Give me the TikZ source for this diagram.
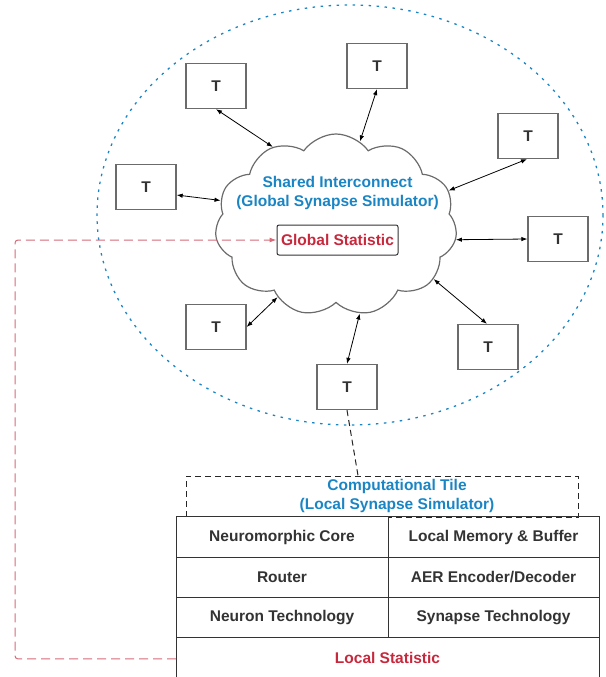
\documentclass[tikz,border=0pt]{standalone}
\usepackage{fontspec}
\setmainfont{Liberation Sans}
\usetikzlibrary{arrows.meta,calc,positioning,shapes.symbols}
\definecolor{linkblue}{HTML}{1A85C4}
\definecolor{statred}{HTML}{C8283C}
\definecolor{statpink}{HTML}{D66A78}
\definecolor{boxgray}{HTML}{6B6B6B}
\definecolor{textgray}{HTML}{333333}
\newcommand{\lbl}{\bfseries\fontsize{15.5}{19}\selectfont}
\tikzset{
	tile/.style={draw=boxgray,line width=1.3pt,minimum width=60,minimum height=45,
		font=\lbl,text=textgray},
	link/.style={<->,>={Latex[length=6pt,width=4.5pt]},line width=0.8pt},
	cell/.style={draw=textgray,line width=1pt,minimum width=212,minimum height=40.3,
		outer sep=0pt,inner sep=0pt,font=\lbl,text=textgray},
	ring/.style={draw=linkblue,line width=1.3pt,dash pattern=on 2.5pt off 5.5pt},
	statline/.style={draw=statpink,line width=1pt,dash pattern=on 9pt off 5pt,
		rounded corners=3pt,-{Latex[length=7pt,width=5pt]}},
	tileline/.style={draw=black!85,line width=1pt,dash pattern=on 6pt off 4pt}
}
\begin{document}
\begin{tikzpicture}[x=1pt,y=-1pt,node distance=0 and 0]
	\useasboundingbox (0,0) rectangle (605,677);
	% shared interconnect
	\draw[ring] (350,215) ellipse [x radius=253, y radius=210];
	\node[cloud,cloud puffs=11,cloud puff arc=110,cloud ignores aspect,draw=boxgray,
		line width=1.2pt,minimum width=242,minimum height=182] (cloud) at (336,225) {};
	\node[font=\lbl,text=linkblue,align=center] (shared) at (337.5,193)
		{Shared Interconnect\\(Global Synapse Simulator)};
	\node[draw=textgray,line width=1pt,rounded corners=2pt,font=\lbl,text=statred,
		minimum width=121,minimum height=30,inner sep=0pt] (global) at (337.5,240) {Global Statistic};
	% tiles
	\node[tile] (t1) at (216,86) {T};
	\node[tile] (t2) at (377,66) {T};
	\node[tile] (t3) at (528,136) {T};
	\node[tile] (t4) at (558,239) {T};
	\node[tile] (t5) at (488,347) {T};
	\node[tile] (t6) at (347,387) {T};
	\node[tile] (t7) at (216,327) {T};
	\node[tile] (t8) at (146,187) {T};
	\draw[link] (t1.south) -- (cloud.129);
	\draw[link] (t2.south) -- (cloud.74);
	\draw[link] ([xshift=-1pt]t3.south) -- (cloud.17);
	\draw[link] (t4.west) -- (cloud.-7);
	\draw[link] ([xshift=-1pt]t5.north) -- (cloud.-29);
	\draw[link] (t6.north) -- (cloud.-75);
	\draw[link] (t7.east) -- (cloud.-129);
	\draw[link] ([yshift=-8pt]t8.east) -- (cloud.168);
	% computational tile
	\node[tileline,minimum width=392,minimum height=41] (tilehead) at (382,496.5) {};
	\node[font=\lbl,text=linkblue,align=center] (tiletitle) at (397,496)
		{Computational Tile\\(Local Synapse Simulator)};
	\draw[tileline] (t6.south) -- ([xshift=-24pt]tilehead.north);
	\node[cell,fill=white] (core) at (282,537) {Neuromorphic Core};
	\node[cell,minimum width=211,right=of core] (memory) {Local Memory \& Buffer};
	\node[cell,below=of core] (router) {Router};
	\node[cell,minimum width=211,right=of router] (aer) {AER Encoder/Decoder};
	\node[cell,below=of router] (neuron) {Neuron Technology};
	\node[cell,minimum width=211,right=of neuron] (synapse) {Synapse Technology};
	\node[cell,minimum width=423,text=statred,below=of neuron.south west,anchor=north west] (local) {Local Statistic};
	\draw[statline] ([yshift=-1pt]local.west) -- ++(-161,0) |- (global.west);
\end{tikzpicture}
\end{document}
